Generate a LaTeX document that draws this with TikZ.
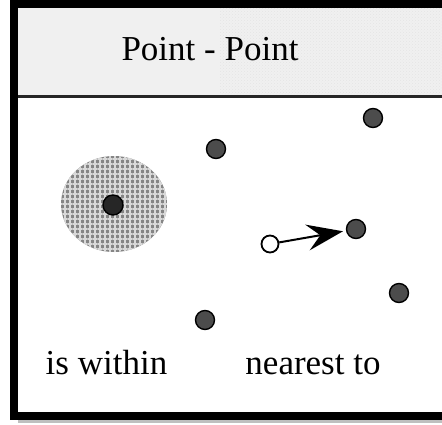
\documentclass[tikz,border=0pt]{standalone}
\usepackage{fontspec}
\setmainfont{Liberation Serif}
\usetikzlibrary{arrows.meta,patterns,patterns.meta}

\begin{document}
\begin{tikzpicture}[x=1pt,y=-1pt,font=\fontsize{35}{40}\selectfont,
  pt/.style={circle,draw=black,line width=1.4pt,fill=black!70,minimum size=19pt,inner sep=0pt},
  query/.style={circle,draw=black,line width=1.8pt,fill=white,minimum size=17pt,inner sep=0pt},
  mesh/.style={pattern={Lines[angle=#1,distance=5pt,line width=1.3pt]},pattern color=black!15}]
  \useasboundingbox (0,0) rectangle (442,424);
  % header band
  \fill[black!6] (18,8) rectangle (442,95);
  \fill[pattern=crosshatch dots,pattern color=black!10] (220,8) rectangle (442,95);
  \draw[line width=3pt,black!85] (18,96.5) -- (442,96.5);
  \node[anchor=base] (title) at (210,60) {Point - Point};
  % shadow and frame
  \draw[line width=3pt,black!25] (18,421.5) -- (442,421.5);
  \draw[line width=8pt] (442,4) -- (14,4) -- (14,416) -- (442,416);
  % is within
  \fill[black!48] (114,204) ellipse [x radius=53,y radius=48];
  \fill[mesh=0] (114,204) ellipse [x radius=53,y radius=48];
  \fill[mesh=90] (114,204) ellipse [x radius=53,y radius=48];
  \node[pt,fill=black!85,minimum size=20pt] (inner) at (113,205) {};
  % nearest to
  \node[pt] (p1) at (373,118) {};
  \node[pt] (p2) at (216,149) {};
  \node[pt] (p3) at (356,229) {};
  \node[pt] (p4) at (399,293) {};
  \node[pt] (p5) at (205,320) {};
  \node[query] (q) at (270,244) {};
  \draw[line width=2pt,-{Stealth[length=36pt,width=26pt,inset=13pt]},shorten >=3pt] (q) -- (p3);
  \node[anchor=base] (within) at (106.5,374) {is within};
  \node[anchor=base] (nearest) at (313,374) {nearest to};
\end{tikzpicture}
\end{document}
